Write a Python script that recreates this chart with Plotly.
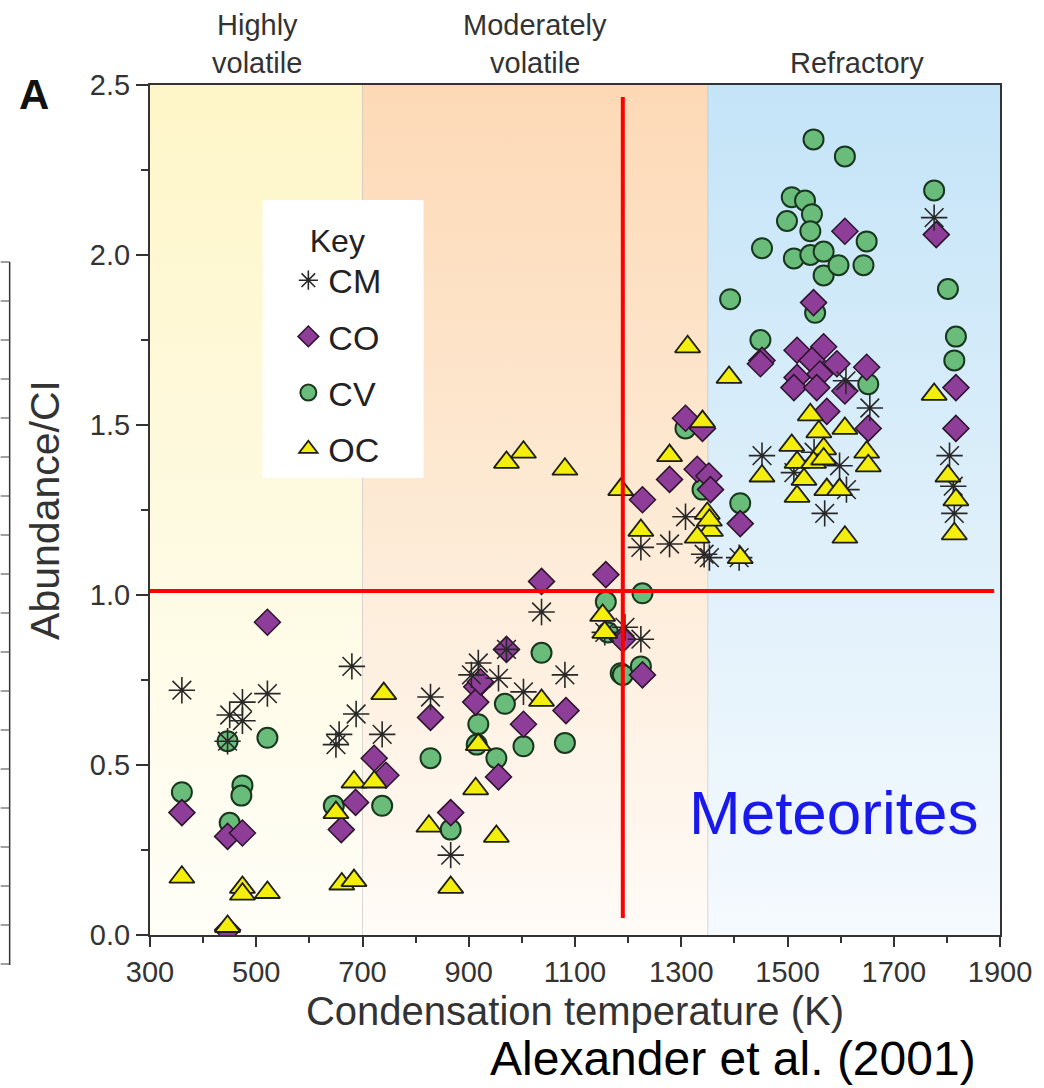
import plotly.graph_objects as go

# ---------------- data ----------------
CM_T = [360, 450, 474, 521, 474, 446, 680, 688, 656, 650, 737, 828, 866, 918, 905, 956, 971, 1003,
        1037, 1081, 1156, 1194, 1224, 1224, 1278, 1308, 1353, 1409, 1343, 1452, 1512, 1598, 1655,
        1570, 1611, 1550, 1610, 1776, 1805, 1812, 1814]
CM_V = [0.72, 0.647, 0.685, 0.71, 0.63, 0.57, 0.79, 0.65, 0.59, 0.56, 0.59, 0.70, 0.235, 0.80, 0.765,
        0.755, 0.84, 0.715, 0.95, 0.765, 0.89, 0.905, 0.87, 1.14, 1.15, 1.23, 1.11, 1.11, 1.12, 1.41,
        1.36, 1.38, 1.55, 1.24, 1.31, 1.42, 1.63, 2.11, 1.41, 1.32, 1.24]

CO_T = [360, 446, 474, 446, 521, 660, 687, 722, 744, 828, 866, 915, 913, 922, 971, 1003, 956, 1037,
        1083, 1158, 1190, 1227, 1227, 1278, 1308, 1340, 1330, 1352, 1355, 1411, 1452, 1449, 1518,
        1568, 1546, 1518, 1561, 1512, 1555, 1593, 1649, 1608, 1574, 1652, 1817, 1817, 1608, 1549, 1780]
CO_V = [0.36, 0.29, 0.30, 0.015, 0.92, 0.31, 0.39, 0.52, 0.47, 0.64, 0.36, 0.73, 0.685, 0.745, 0.84,
        0.62, 0.465, 1.04, 0.66, 1.06, 0.87, 0.765, 1.28, 1.34, 1.52, 1.49, 1.37, 1.35, 1.31, 1.21,
        1.69, 1.68, 1.72, 1.73, 1.69, 1.64, 1.65, 1.61, 1.61, 1.68, 1.67, 1.60, 1.54, 1.49, 1.61,
        1.49, 2.07, 1.86, 2.06]

CV_T = [360, 446, 521, 474, 472, 450, 646, 737, 828, 918, 915, 968, 952, 1003, 1037, 1081, 866, 1158,
        1162, 1186, 1227, 1190, 1224, 1308, 1340, 1411, 1549, 1608, 1508, 1533, 1499, 1546, 1543,
        1452, 1512, 1543, 1568, 1568, 1596, 1649, 1643, 1392, 1552, 1449, 1776, 1802, 1817, 1814, 1652]
CV_V = [0.42, 0.57, 0.58, 0.44, 0.41, 0.33, 0.38, 0.38, 0.52, 0.62, 0.56, 0.68, 0.52, 0.555, 0.83,
        0.565, 0.31, 0.98, 0.89, 0.77, 1.005, 0.765, 0.79, 1.49, 1.31, 1.27, 2.34, 2.29, 2.17, 2.16,
        2.10, 2.12, 2.07, 2.02, 1.99, 2.00, 2.01, 1.94, 1.97, 2.04, 1.97, 1.87, 1.83, 1.75, 2.19,
        1.90, 1.76, 1.69, 1.62]

OC_T = [360, 474, 474, 521, 446, 661, 684, 650, 684, 722, 740, 825, 866, 913, 918, 952, 1037, 1152,
        1156, 971, 1003, 1081, 1186, 1312, 1390, 1340, 1278, 1224, 1349, 1355, 1330, 1411, 1452,
        1543, 1559, 1608, 1508, 1568, 1518, 1549, 1568, 1649, 1652, 1531, 1518, 1574, 1598, 1608,
        1802, 1817, 1814, 1776, 1353]
OC_V = [0.17, 0.14, 0.12, 0.125, 0.025, 0.15, 0.16, 0.36, 0.45, 0.45, 0.71, 0.32, 0.14, 0.43, 0.56,
        0.29, 0.69, 0.94, 0.89, 1.39, 1.42, 1.37, 1.31, 1.73, 1.64, 1.51, 1.41, 1.19, 1.24, 1.19,
        1.17, 1.11, 1.35, 1.53, 1.48, 1.49, 1.44, 1.43, 1.39, 1.39, 1.40, 1.42, 1.38, 1.34, 1.29,
        1.31, 1.31, 1.17, 1.35, 1.28, 1.18, 1.59, 1.22]

REGION_EDGES = [300, 700, 1350, 1900]
REGION_NAMES = [["Highly", "volatile"], ["Moderately", "volatile"], ["Refractory"]]
REF_T = 1190
REF_V = 1.012

X_TICKS = [300, 500, 700, 900, 1100, 1300, 1500, 1700, 1900]
Y_TICKS = [0.0, 0.5, 1.0, 1.5, 2.0, 2.5]

# ---------------- styling ----------------
FONT = "Liberation Sans, Arial, sans-serif"
TXT = "#333333"
region_scales = [
    [[0, "rgb(255,254,247)"], [0.5, "rgb(254,250,224)"], [1, "rgb(254,246,200)"]],
    [[0, "rgb(255,251,247)"], [0.5, "rgb(253,234,212)"], [1, "rgb(253,217,182)"]],
    [[0, "rgb(245,250,254)"], [0.5, "rgb(221,239,250)"], [1, "rgb(196,228,248)"]],
]

fig = go.Figure()

# background gradient regions
for i in range(3):
    x0, x1 = REGION_EDGES[i], REGION_EDGES[i + 1]
    fig.add_trace(go.Scatter(
        x=[x0, x1, x1, x0, x0], y=[0, 0, 2.5, 2.5, 0], mode="lines", fill="toself",
        line=dict(width=0), fillgradient=dict(type="vertical", colorscale=region_scales[i]),
        hoverinfo="skip", showlegend=False))

# faint region boundaries
for xb in REGION_EDGES[1:3]:
    fig.add_trace(go.Scatter(x=[xb, xb], y=[0, 2.5], mode="lines",
                             line=dict(color="rgba(170,170,170,0.45)", width=1),
                             hoverinfo="skip", showlegend=False))

# white key box
fig.add_trace(go.Scatter(x=[512, 815, 815, 512, 512], y=[1.344, 1.344, 2.162, 2.162, 1.344],
                         mode="lines", fill="toself", fillcolor="white", line=dict(width=0),
                         hoverinfo="skip", showlegend=False))

series = [
    ("CV", CV_T, CV_V, dict(symbol="circle", size=20, color="rgb(106,188,122)",
                            line=dict(color="rgb(25,55,30)", width=2)), 3),
    ("CO", CO_T, CO_V, dict(symbol="diamond", size=20, color="rgb(142,62,152)",
                            line=dict(color="rgb(45,20,45)", width=1.5)), 2),
    ("CM", CM_T, CM_V, dict(symbol="asterisk-open", size=22, color="rgb(40,40,40)",
                            line=dict(color="rgb(40,40,40)", width=1.6)), 1),
    ("OC", OC_T, OC_V, dict(symbol="triangle-up", size=22, color="rgb(243,238,12)",
                            line=dict(color="rgb(30,30,20)", width=1.8)), 4),
]
for name, xs, ys, mk, rank in series:
    fig.add_trace(go.Scatter(x=xs, y=ys, mode="markers", name=name, marker=mk,
                             legendrank=rank, legendgroup=name))

W, H = 1044, 1088
L, R, T, B = 150, 40, 85, 153
PW, PH = W - L - R, H - T - B


def px(xp):
    return (xp - L) / PW


def py(yp):
    return (H - B - yp) / PH


shapes = [
    dict(type="line", xref="x", yref="y", x0=REF_T, x1=REF_T, y0=0.05, y1=2.465,
         line=dict(color="rgb(255,0,0)", width=4), layer="above"),
    dict(type="line", xref="x", yref="y", x0=291, x1=1889, y0=REF_V, y1=REF_V,
         line=dict(color="rgb(255,0,0)", width=4), layer="above"),
    # neighbouring panel edge at far left
    dict(type="line", xref="paper", yref="paper", x0=px(9), x1=px(9), y0=py(262), y1=py(965),
         line=dict(color="#333", width=1.5)),
]
for k in range(19):
    yy = 262 + 39 * k
    shapes.append(dict(type="line", xref="paper", yref="paper", x0=px(0), x1=px(9),
                       y0=py(yy), y1=py(yy), line=dict(color="#444", width=1)))

annotations = []
centers = [502, 1025, 1630]
for c, lines in zip(centers, REGION_NAMES):
    ys = [25, 63] if len(lines) == 2 else [63]
    for t, yy in zip(lines, ys):
        annotations.append(dict(text=t, x=c, xref="x", y=py(yy), yref="paper", showarrow=False,
                                xanchor="center", yanchor="middle",
                                font=dict(family=FONT, size=29, color=TXT)))
annotations += [
    dict(text="<b>A</b>", x=px(33), y=py(95), xref="paper", yref="paper", showarrow=False,
         xanchor="center", yanchor="middle", font=dict(family=FONT, size=42, color="#111")),
    dict(text="Meteorites", x=px(837), y=py(812), xref="paper", yref="paper", showarrow=False,
         xanchor="center", yanchor="middle", font=dict(family=FONT, size=62, color="rgb(25,25,235)")),
    dict(text="Alexander et al. (2001)", x=px(736), y=py(1058), xref="paper", yref="paper",
         showarrow=False, xanchor="center", yanchor="middle",
         font=dict(family=FONT, size=48, color="#000")),
]

fig.update_layout(
    width=W, height=H, margin=dict(l=L, r=R, t=T, b=B),
    paper_bgcolor="white", plot_bgcolor="white",
    shapes=shapes, annotations=annotations,
    legend=dict(x=px(289), y=py(210), xanchor="left", yanchor="top",
                bgcolor="rgba(0,0,0,0)", traceorder="grouped", tracegroupgap=9,
                font=dict(family=FONT, size=34, color="#222"),
                title=dict(text="Key", side="top center", font=dict(family=FONT, size=32, color="#222"))),
    xaxis=dict(range=[300, 1900], tickvals=X_TICKS, ticktext=[str(v) for v in X_TICKS],
               ticks="outside", ticklen=10, tickwidth=1.5, tickcolor="#333",
               minor=dict(dtick=100, tick0=300, ticks="outside", ticklen=6, tickwidth=1.5, tickcolor="#333"),
               showline=True, linecolor="#333", linewidth=2, mirror=True, showgrid=False, zeroline=False,
               tickfont=dict(family=FONT, size=29, color=TXT),
               title=dict(text="Condensation temperature (K)", standoff=10,
                          font=dict(family=FONT, size=40, color=TXT))),
    yaxis=dict(range=[0, 2.5], tickvals=Y_TICKS, ticktext=[f"{v:.1f}" for v in Y_TICKS],
               ticks="outside", ticklen=12, tickwidth=1.5, tickcolor="#333",
               minor=dict(dtick=0.25, tick0=0, ticks="outside", ticklen=7, tickwidth=1.5, tickcolor="#333"),
               showline=True, linecolor="#333", linewidth=2, mirror=True, showgrid=False, zeroline=False,
               tickfont=dict(family=FONT, size=29, color=TXT),
               title=dict(text="Abundance/CI", standoff=18,
                          font=dict(family=FONT, size=41, color=TXT))),
)

fig.write_html("out.html")
